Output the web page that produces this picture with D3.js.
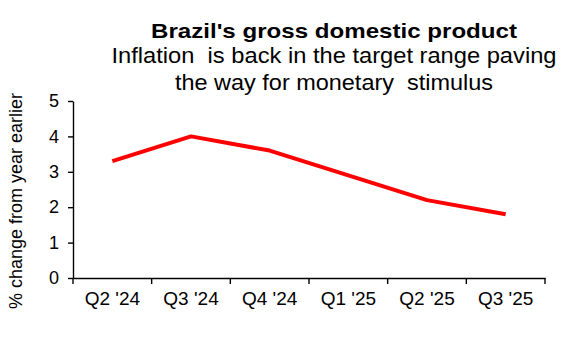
<!DOCTYPE html>
<html><head><meta charset="utf-8">
<script src="https://cdn.jsdelivr.net/npm/d3@7"></script>
<style>body{margin:0;background:#fff}svg{display:block}text{font-family:"Liberation Sans",Arial,sans-serif;fill:#000}</style>
</head><body><svg id="c" width="580" height="360"></svg>
<script>
const categories = ["Q2 '24","Q3 '24","Q4 '24","Q1 '25","Q2 '25","Q3 '25"];
const gdpGrowth = [3.3, 4.0, 3.6, 2.9, 2.2, 1.8];
const yTicks = [0,1,2,3,4,5];
const title = "Brazil's gross domestic product";
const subtitle = ["Inflation  is back in the target range paving", "the way for monetary  stimulus"];
const yLabel = "% change from year earlier";

const svg = d3.select("#c");
const m = {left:73, right:35, top:101, bottom:82};
const W = 580, H = 360;
const x = d3.scaleBand().domain(categories).range([m.left, W - m.right]);
const y = d3.scaleLinear().domain([0,5]).range([H - m.bottom, m.top]);

svg.append("text").attr("x",334).attr("y",38).attr("text-anchor","middle")
  .attr("textLength",366).attr("lengthAdjust","spacingAndGlyphs")
  .style("font-size","21px").style("font-weight","bold").text(title);
const subW = [445, 318];
svg.selectAll(".sub").data(subtitle).enter().append("text")
  .attr("x",334).attr("y",(d,i)=>63+i*27).attr("text-anchor","middle")
  .attr("textLength",(d,i)=>subW[i]).attr("lengthAdjust","spacingAndGlyphs")
  .style("font-size","21.5px").style("white-space","pre").text(d=>d);

const ya = svg.append("g").attr("transform",`translate(${m.left},0)`)
  .call(d3.axisLeft(y).tickValues(yTicks).tickFormat(d3.format("d")).tickSize(5).tickPadding(9).tickSizeOuter(0));
ya.selectAll("text").style("font-size","18px").attr("fill","#000");
ya.selectAll("line,path").attr("stroke","#000").attr("stroke-width",1.4);

const xa = svg.append("g").attr("transform",`translate(0,${H - m.bottom})`)
  .call(d3.axisBottom(x).tickSize(0).tickPadding(14));
xa.selectAll("text").style("font-size","19px").attr("fill","#000");
xa.select("path").attr("stroke","#000").attr("stroke-width",1.4);
xa.selectAll(".tick line").remove();
const edges = categories.map(c=>x(c)).concat([x(categories[categories.length-1])+x.bandwidth()]);
xa.selectAll(".edge").data(edges).enter().append("line").attr("class","edge")
  .attr("x1",d=>d).attr("x2",d=>d).attr("y1",0).attr("y2",6)
  .attr("stroke","#000").attr("stroke-width",1.4);

svg.append("text").attr("transform","translate(22,201) rotate(-90)")
  .attr("text-anchor","middle").attr("textLength",216).attr("lengthAdjust","spacingAndGlyphs")
  .style("font-size","18.5px").text(yLabel);

const line = d3.line().x((d,i)=>x(categories[i])+x.bandwidth()/2).y(d=>y(d));
svg.append("path").datum(gdpGrowth).attr("d",line).attr("fill","none")
  .attr("stroke","#ff0000").attr("stroke-width",4).attr("stroke-linejoin","round");
</script></body></html>
